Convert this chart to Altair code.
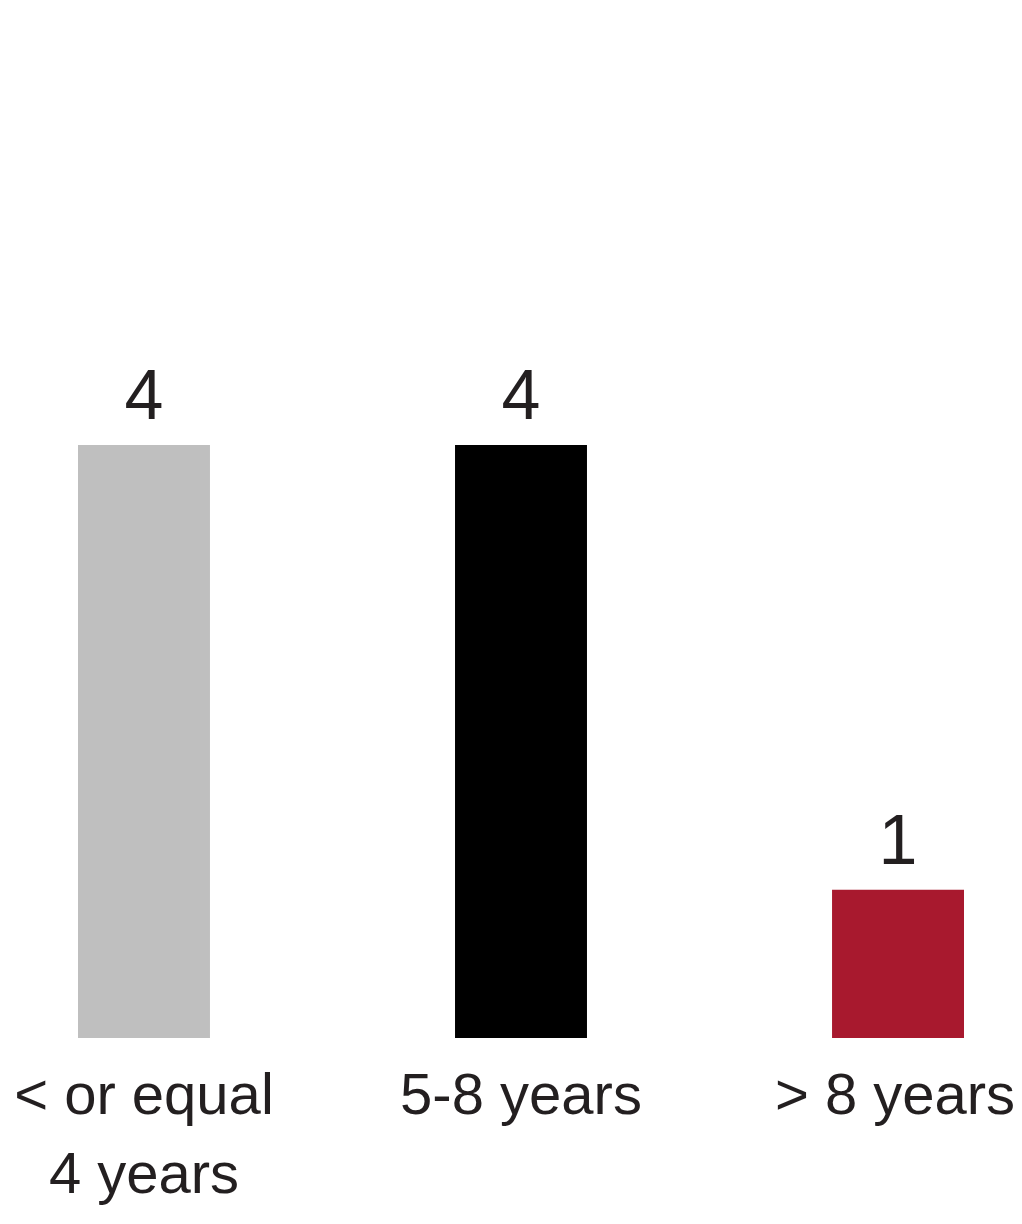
import altair as alt
import pandas as pd

categories = ["< or equal|4 years", "5-8 years", "> 8 years"]
values = [4, 4, 1]
colors = ["#bfbfbf", "#000000", "#a8192e"]

df = pd.DataFrame({"cat": categories, "value": values})

FONT = "Liberation Sans"
TEXT = "#231f20"

x = alt.X(
    "cat:N",
    sort=categories,
    title=None,
    scale=alt.Scale(range=[70, 956], paddingInner=0.65, paddingOuter=0),
    axis=alt.Axis(
        labelAngle=0,
        labelFontSize=58,
        labelFont=FONT,
        labelColor=TEXT,
        labelLineHeight=79,
        labelPadding=29,
        labelExpr="split(datum.label, '|')",
        labelOffset={"condition": {"test": "datum.value == '> 8 years'", "value": -3}, "value": 0},
        domain=False,
        ticks=False,
        tickSize=0,
        grid=False,
        labelOverlap=False,
        labelLimit=0,
    ),
)
y = alt.Y("value:Q", scale=alt.Scale(domain=[0, 6.948], nice=False, zero=True), axis=None)

bars = alt.Chart(df).mark_bar().encode(
    x=x,
    y=y,
    color=alt.Color("cat:N", scale=alt.Scale(domain=categories, range=colors), legend=None),
)

text = alt.Chart(df).mark_text(
    baseline="alphabetic", dy=-26, fontSize=70, font=FONT, color=TEXT
).encode(x=alt.X("cat:N", sort=categories), y=y, text="value:Q")

chart = (
    alt.layer(bars, text)
    .properties(
        width=1006,
        height=1030,
        autosize=alt.AutoSizeParams(type="none"),
        padding={"left": 0, "top": 0, "right": 0, "bottom": 176},
    )
    .configure_view(stroke=None)
)

chart.save("out.html", embed_options={"renderer": "svg", "actions": False})
